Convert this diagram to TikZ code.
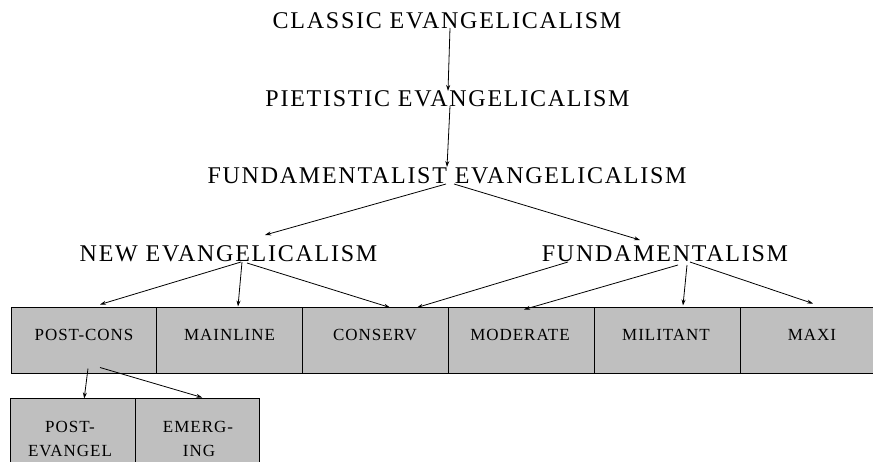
\documentclass[tikz,border=0pt]{standalone}
\usepackage{fontspec}
\setmainfont{Liberation Serif}
\newfontfamily\spacedfont[LetterSpace=5.7]{Liberation Serif}
\newfontfamily\titlefont[LetterSpace=7.3]{Liberation Serif}
\usetikzlibrary{arrows.meta,calc}
\definecolor{boxgray}{RGB}{191,191,191}
\begin{document}
\begin{tikzpicture}[x=1pt,y=-1pt,
  title/.style={anchor=base,inner sep=0pt,font=\titlefont\fontsize{24}{28}\selectfont},
  boxlabel/.style={anchor=base,inner sep=0pt,font=\spacedfont\fontsize{17}{20}\selectfont},
  cell/.style={draw=black,fill=boxgray,line width=1pt,minimum width=146pt,minimum height=66pt,inner sep=0pt},
  subcell/.style={draw=black,fill=boxgray,line width=1pt,minimum width=124.5pt,minimum height=66pt,inner sep=0pt},
  link/.style={line width=0.8pt,-{Stealth[length=6pt,width=4pt]}}]
\useasboundingbox (0,0) rectangle (873,461);
\clip (0,0) rectangle (873,461);
% boxes
\node[cell] (b1) at (84,340) {};
\node[cell] (b2) at (229.5,340) {};
\node[cell] (b3) at (375,340) {};
\node[cell] (b4) at (521,340) {};
\node[cell] (b5) at (667,340) {};
\node[cell] (b6) at (813,340) {};
\node[subcell] (c1) at (73.2,431) {};
\node[subcell] (c2) at (197.7,431) {};
% box labels
\node[boxlabel] (l1) at (84,340) {POST-CONS};
\node[boxlabel] (l2) at (229.5,340) {MAINLINE};
\node[boxlabel] (l3) at (375,340) {CONSERV};
\node[boxlabel] (l4) at (520,340) {MODERATE};
\node[boxlabel] (l5) at (666,340) {MILITANT};
\node[boxlabel] (l6) at (812,340) {MAXI};
\node[boxlabel] (l7a) at (70,432) {POST-};
\node[boxlabel] (l7b) at (70,456) {EVANGEL};
\node[boxlabel] (l8a) at (198,432) {EMERG-};
\node[boxlabel] (l8b) at (199,456) {ING};
% titles
\node[title] (ce) at (447,28) {CLASSIC EVANGELICALISM};
\node[title] (pe) at (447.5,106) {PIETISTIC EVANGELICALISM};
\node[title] (fe) at (447,183) {FUNDAMENTALIST EVANGELICALISM};
\node[title] (ne) at (228.5,261) {NEW EVANGELICALISM};
\node[title] (fu) at (665,261) {FUNDAMENTALISM};
% connectors
\draw[link] ($(ce.base)+(3,0)$) -- ($(pe.base)+(0.5,-15)$);
\draw[link] ($(pe.base)+(2.5,0)$) -- ($(fe.base)+(0,-16)$);
\draw[link] ($(fe.base)+(-1,1)$) -- ($(ne.base)+(36.5,-26)$);
\draw[link] ($(fe.base)+(7,1)$) -- ($(fu.base)+(-25,-21)$);
\draw[link] ($(ne.base)+(12.5,1)$) -- ($(b1.north)+(16,-2)$);
\draw[link] ($(ne.base)+(13.5,1)$) -- ($(b2.north)+(8.5,0)$);
\draw[link] ($(ne.base)+(18.5,2)$) -- ($(b3.north)+(15,1)$);
\draw[link] ($(fu.base)+(-97,1)$) -- ($(b3.north)+(42,1)$);
\draw[link] ($(fu.base)+(13,4)$) -- ($(b4.north)+(3,3)$);
\draw[link] ($(fu.base)+(22,4)$) -- ($(b5.north)+(16,-1)$);
\draw[link] ($(fu.base)+(25,1)$) -- ($(b6.north)+(0,-3)$);
\draw[link] ($(b1.south)+(4,-5)$) -- ($(c1.north)+(11,1)$);
\draw[link] ($(b1.south)+(16,-6)$) -- ($(c2.north)+(4.5,0)$);
\end{tikzpicture}
\end{document}
